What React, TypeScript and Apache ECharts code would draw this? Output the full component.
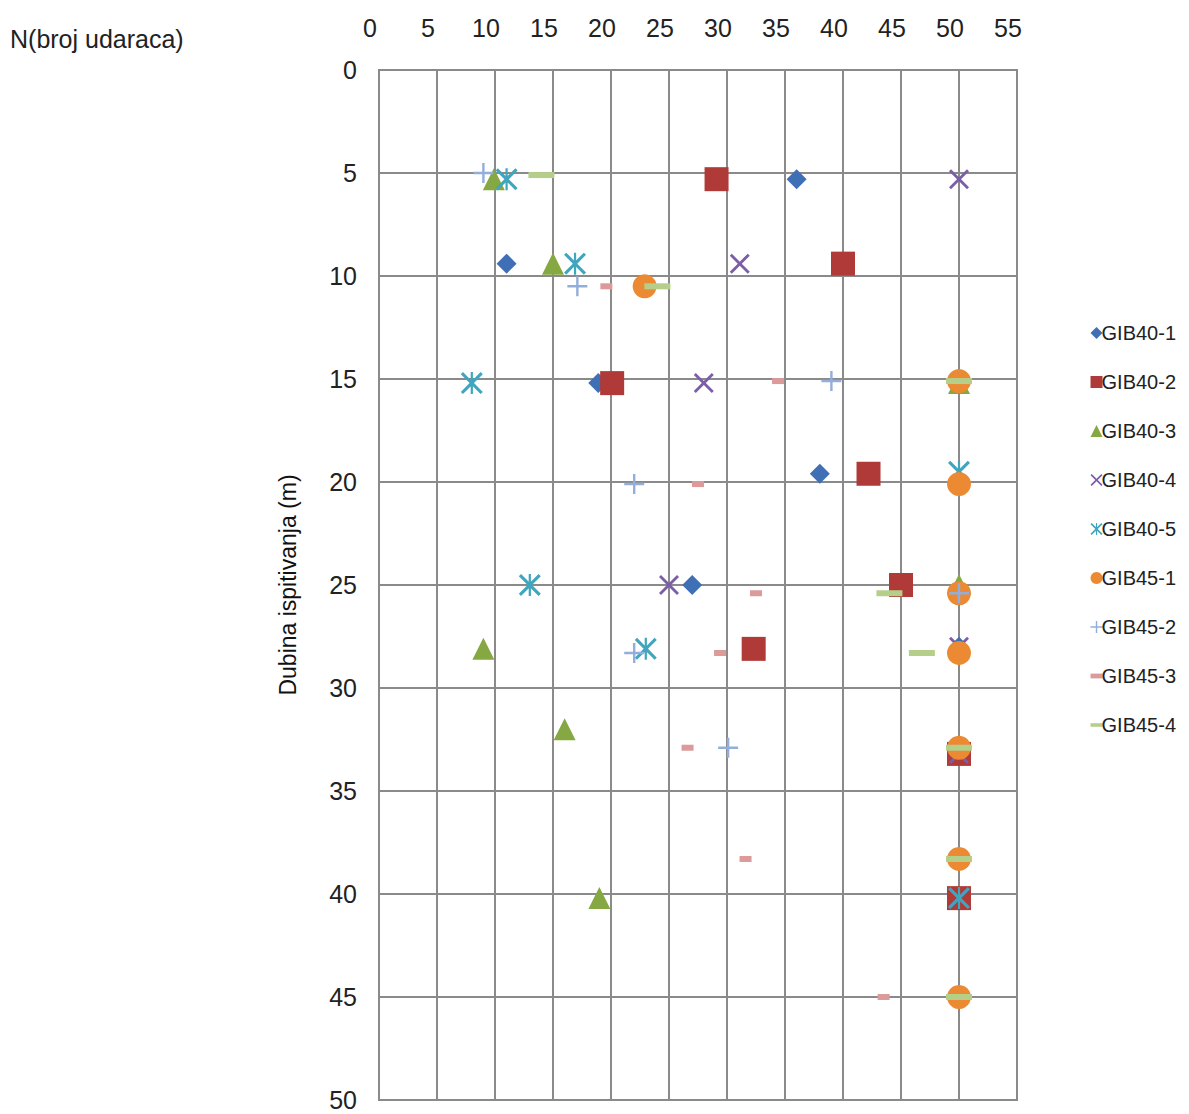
import React, { useEffect, useRef } from "react";
import * as echarts from "echarts";

const seriesNames = ["GIB40-1","GIB40-2","GIB40-3","GIB40-4","GIB40-5","GIB45-1","GIB45-2","GIB45-3","GIB45-4"];
const colors = ["#3f6fb5","#b03a37","#86a842","#7b5ea6","#3fa6bd","#ec8a33","#93aedb","#dc9a9b","#b5cf8b"];
const gib40_1 = [[36,5.3],[11,9.4],[18.9,15.2],[38,19.6],[27,25],[50,28]];
const gib40_2 = [[29.1,5.3],[40,9.4],[20.1,15.2],[42.2,19.6],[45,25],[32.3,28.1],[50,33.2],[50,40.2]];
const gib40_3 = [[9.9,5.3],[15,9.4],[50,15.2],[50,25],[9,28.1],[16,32],[19,40.2]];
const gib40_4 = [[50,5.3],[31.1,9.4],[28,15.2],[25,25],[50,28],[50,33.2],[50,40.2]];
const gib40_5 = [[11,5.3],[16.9,9.4],[8,15.2],[50,19.5],[13,25],[23,28.1],[50,40.2]];
const gib45_1 = [[22.9,10.5],[50,15.1],[50,20.1],[50,25.4],[50,28.3],[50,32.9],[50,38.3],[50,45]];
const gib45_2 = [[9,5],[17.1,10.5],[39,15.1],[22,20.1],[50,25.4],[22,28.3],[30.1,32.9]];
const gib45_3 = [[19.6,10.5],[34.4,15.1],[27.5,20.1],[32.5,25.4],[29.4,28.3],[26.6,32.9],[31.6,38.3],[43.5,45]];
const gib45_4 = [[14,5.1],[24,10.5],[50,15.1],[44,25.4],[46.8,28.3],[50,32.9],[50,38.3],[50,45]];
const allData = [gib40_1,gib40_2,gib40_3,gib40_4,gib40_5,gib45_1,gib45_2,gib45_3,gib45_4];
const xTicks = [0,5,10,15,20,25,30,35,40,45,50,55];

const X_PATH = "path://M1,0 L5,4 L9,0 L10,1 L6,5 L10,9 L9,10 L5,6 L1,10 L0,9 L4,5 L0,1 Z";
const AST_PATH = "path://M1,0 L5,4 L9,0 L10,1 L6,5 L10,9 L9,10 L5,6 L1,10 L0,9 L4,5 L0,1 Z M4.5,0 L5.5,0 L5.5,10 L4.5,10 Z";
const PLUS_PATH = "path://M4.4,0 L5.6,0 L5.6,4.4 L10,4.4 L10,5.6 L5.6,5.6 L5.6,10 L4.4,10 L4.4,5.6 L0,5.6 L0,4.4 L4.4,4.4 Z";
const symbols: any[] = ["diamond","rect","triangle",X_PATH,AST_PATH,"circle",PLUS_PATH,"rect","rect"];
const sizes: any[] = [20,24,22,20,22,24,20,[12,6],[26,6]];

export default function App() {
  const ref = useRef<HTMLDivElement>(null);
  useEffect(() => {
    const chart = echarts.init(ref.current!, null, { renderer: "svg" });
    const font = "Liberation Sans, Arial, sans-serif";
    chart.setOption({
      animation: false,
      textStyle: { fontFamily: font },
      grid: { left: 371, right: 164, top: 62, bottom: 14 },
      legend: {
        orient: "vertical", right: 0, top: 310, itemGap: 29, itemWidth: 12, itemHeight: 12,
        textStyle: { fontSize: 20, color: "#222", padding: [0, 0, 0, -6] },
        data: seriesNames.map((n, i) => ({ name: n, icon: i === 7 ? "path://M0,0 L10,0 L10,4 L0,4 Z" : i === 8 ? "path://M0,0 L10,0 L10,3 L0,3 Z" : symbols[i] })),
      },
      xAxis: {
        type: "value", position: "top", min: 0, max: 55, interval: 5,
        axisLine: { show: false }, axisTick: { show: false },
        axisLabel: { fontSize: 25, color: "#222", margin: 30, padding: [0, 18, 0, 0], formatter: (v: number) => xTicks.includes(v) ? String(v) : "" },
        splitLine: { lineStyle: { color: "#8a8a8a", width: 2 } },
      },
      yAxis: {
        type: "value", inverse: true, min: 0, max: 50, interval: 5,
        name: "Dubina ispitivanja (m)", nameLocation: "middle", nameGap: 80, nameRotate: 90,
        nameTextStyle: { fontSize: 23, color: "#111" },
        axisLine: { show: true, lineStyle: { color: "#8a8a8a", width: 2 } }, axisTick: { show: false },
        axisLabel: { fontSize: 25, color: "#222", margin: 22 },
        splitLine: { lineStyle: { color: "#8a8a8a", width: 2 } },
      },
      graphic: [
        { type: "text", left: 2, top: 18, style: { text: "N(broj udaraca)", fontSize: 25, fill: "#222", fontFamily: font } },
        { type: "rect", shape: { x: 371, y: 62, width: 638, height: 1030 }, style: { fill: "none", stroke: "#8a8a8a", lineWidth: 2 }, silent: true },
      ],
      series: allData.map((d, i) => ({
        name: seriesNames[i], type: "scatter", data: d, symbol: symbols[i], symbolSize: sizes[i],
        itemStyle: { color: colors[i], opacity: 1 },
      })),
    });
    return () => chart.dispose();
  }, []);
  return <div ref={ref} style={{ width: 1173, height: 1106 }} />;
}
